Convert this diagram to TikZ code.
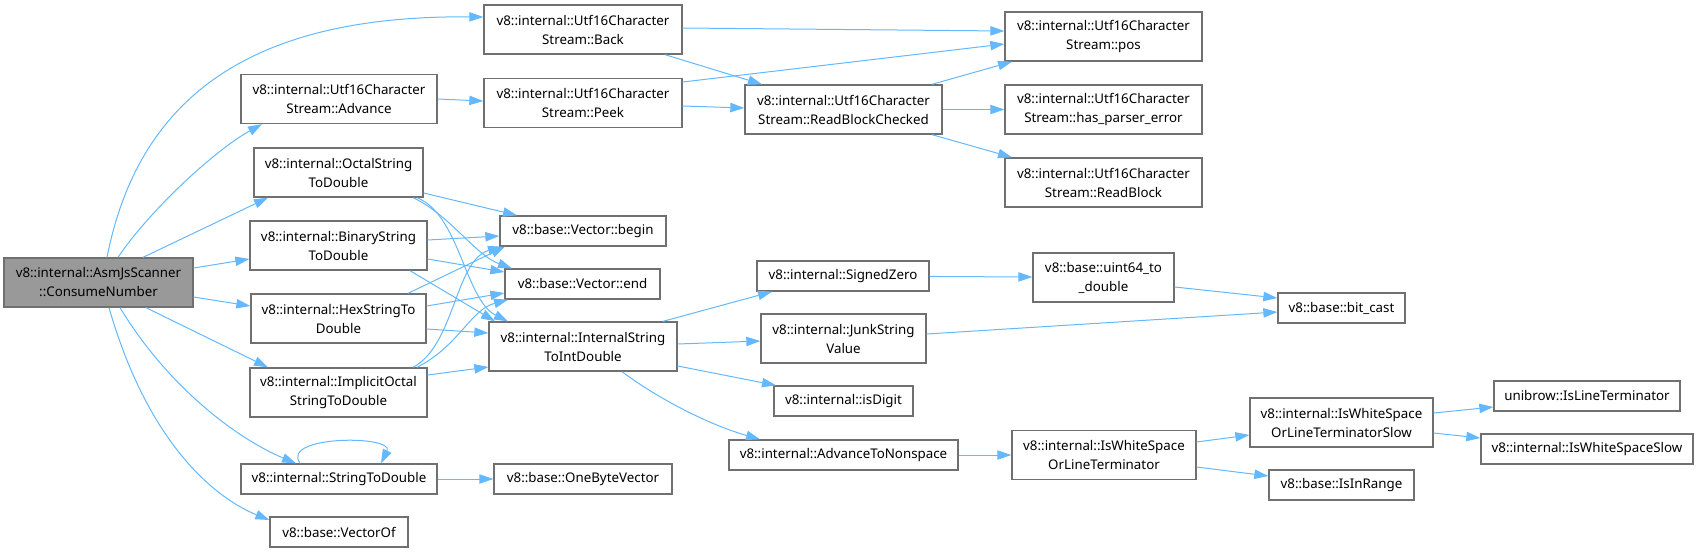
\documentclass[tikz,border=0pt]{standalone}
\usepackage{fontspec}
\newfontfamily\graphfont{Noto Sans}
\usetikzlibrary{arrows.meta}
\definecolor{edgeblue}{HTML}{63B8FF}
\definecolor{boxgray}{HTML}{707070}
\definecolor{rootgray}{HTML}{999999}
\tikzset{
    fn/.style={rectangle, draw=boxgray, line width=1pt, fill=white, inner sep=1pt,
        minimum width=0.75pt*#1, minimum height=22.5pt, align=center,
        font=\graphfont\fontsize{10}{14.25}\selectfont},
    fn2/.style={fn=#1, minimum height=36.75pt},
    call/.style={draw=edgeblue, line width=0.75pt, -{Triangle[length=10.5pt,width=7pt]}}
}

\begin{document}
\begin{tikzpicture}[x=0.75pt, y=-0.75pt]
        \useasboundingbox (0,0) rectangle (1698,553);
        % nodes
        \node [fn2=189, fill=rootgray] (main) at (98.5,282.5) {v8::internal::AsmJsScanner\\::ConsumeNumber};
        \node [fn2=198] (back) at (583,29.5) {v8::internal::Utf16Character\\Stream::Back};
        \node [fn2=196] (advance) at (339,99) {v8::internal::Utf16Character\\Stream::Advance};
        \node [fn2=198] (peek) at (583,103) {v8::internal::Utf16Character\\Stream::Peek};
        \node [fn2=169] (octal) at (338.5,172.5) {v8::internal::OctalString\\ToDouble};
        \node [fn2=177] (binary) at (338.5,245.5) {v8::internal::BinaryString\\ToDouble};
        \node [fn2=175] (hex) at (338.5,318.5) {v8::internal::HexStringTo\\Double};
        \node [fn2=177] (implicit) at (338.5,392.5) {v8::internal::ImplicitOctal\\StringToDouble};
        \node [fn=196] (strtod) at (339,479) {v8::internal::StringToDouble};
        \node [fn=138] (vecof) at (339,532) {v8::base::VectorOf};
        \node [fn=166] (vbegin) at (583,231) {v8::base::Vector::begin};
        \node [fn=155] (vend) at (582.5,284) {v8::base::Vector::end};
        \node [fn2=188] (intstr) at (583,346.5) {v8::internal::InternalString\\ToIntDouble};
        \node [fn=178] (onebyte) at (583,479) {v8::base::OneByteVector};
        \node [fn2=197] (rbc) at (843.5,109.5) {v8::internal::Utf16Character\\Stream::ReadBlockChecked};
        \node [fn2=197] (pos) at (1103.5,36.5) {v8::internal::Utf16Character\\Stream::pos};
        \node [fn2=197] (haserr) at (1103.5,109.5) {v8::internal::Utf16Character\\Stream::has\_parser\_error};
        \node [fn2=197] (readblk) at (1103.5,182.5) {v8::internal::Utf16Character\\Stream::ReadBlock};
        \node [fn=172] (signed) at (843,276) {v8::internal::SignedZero};
        \node [fn2=165] (junk) at (843.5,338.5) {v8::internal::JunkString\\Value};
        \node [fn=139] (isdigit) at (843.5,401) {v8::internal::isDigit};
        \node [fn=229] (advnon) at (843.5,455) {v8::internal::AdvanceToNonspace};
        \node [fn2=141] (u64) at (1103.5,277.5) {v8::base::uint64\_to\\\_double};
        \node [fn2=184] (iswsolt) at (1104,455) {v8::internal::IsWhiteSpace\\OrLineTerminator};
        \node [fn=127] (bitcast) at (1341.5,308) {v8::base::bit\_cast};
        \node [fn2=183] (iswsolts) at (1341.5,422.5) {v8::internal::IsWhiteSpace\\OrLineTerminatorSlow};
        \node [fn=145] (inrange) at (1341.5,485) {v8::base::IsInRange};
        \node [fn=186] (unibrow) at (1587,396) {unibrow::IsLineTerminator};
        \node [fn=212] (wsslow) at (1587,449) {v8::internal::IsWhiteSpaceSlow};

        % calls from the root
        \draw [call] (main.north -| 107,0) .. controls (140,90) and (260,15) .. (back.west |- 0,17);
        \draw [call] (main.north -| 118,0) .. controls (150,210) and (215,150) .. (advance.south -| 262,0);
        \draw [call] (main.north -| 143,0) -- (octal.south -| 268,0);
        \draw [call] (main.east |- 0,268) -- (binary.west |- 0,259);
        \draw [call] (main.east |- 0,297) -- (hex.west |- 0,306);
        \draw [call] (main.south -| 146,0) -- (implicit.north -| 268,0);
        \draw [call] (main.south -| 120,0) .. controls (170,390) and (240,440) .. (strtod.north -| 296,0);
        \draw [call] (main.south -| 109,0) .. controls (150,450) and (220,500) .. (vecof.west |- 0,520);
        \draw [call] (strtod.north -| 300,0) .. controls (280,435) and (395,435) .. (strtod.north -| 381,0);
        \draw [call] (strtod) -- (onebyte);

        % utf16 stream
        \draw [call] (advance.east |- 0,99) -- (peek.west |- 0,101);
        \draw [call] (back.east |- 0,28) -- (pos.west |- 0,31);
        \draw [call] (back.south -| 665,0) -- (rbc.north -| 762,0);
        \draw [call] (peek.east |- 0,82) -- (pos.west |- 0,44);
        \draw [call] (peek.east |- 0,106) -- (rbc.west |- 0,108);
        \draw [call] (rbc.north -| 932,0) -- (pos.south -| 1012,0);
        \draw [call] (rbc) -- (haserr);
        \draw [call] (rbc.south -| 932,0) -- (readblk.north -| 1012,0);

        % string conversions
        \draw [call] (octal.east |- 0,193) -- (vbegin.north -| 517,0);
        \draw [call] (octal.south -| 413,0) .. controls (450,215) and (475,255) .. (vend.north -| 512,0);
        \draw [call] (octal.south -| 417,0) .. controls (460,215) and (465,300) .. (intstr.north -| 508,0);
        \draw [call] (binary.east |- 0,240) -- (vbegin.west |- 0,236);
        \draw [call] (binary.east |- 0,259) -- (vend.west |- 0,272);
        \draw [call] (binary.south -| 410,0) -- (intstr.north -| 495,0);
        \draw [call] (hex.north -| 408,0) -- (vbegin.south -| 505,0);
        \draw [call] (hex.east |- 0,306) -- (vend.west |- 0,293);
        \draw [call] (hex.east |- 0,329) -- (intstr.west |- 0,333);
        \draw [call] (implicit.north -| 413,0) .. controls (455,345) and (455,260) .. (vbegin.south -| 502,0);
        \draw [call] (implicit.north -| 417,0) .. controls (460,345) and (470,310) .. (vend.south -| 508,0);
        \draw [call] (implicit.east |- 0,375) -- (intstr.west |- 0,367);

        % internal string to int double
        \draw [call] (intstr.north -| 663,0) -- (signed.south -| 772,0);
        \draw [call] (intstr.east |- 0,344) -- (junk.west |- 0,341);
        \draw [call] (intstr.east |- 0,366) -- (isdigit.north -| 776,0);
        \draw [call] (intstr.south -| 622,0) .. controls (660,400) and (710,425) .. (advnon.north -| 760,0);
        \draw [call] (signed) -- (u64.west |- 0,277);
        \draw [call] (u64.east |- 0,287) -- (bitcast.west |- 0,298);
        \draw [call] (junk.east |- 0,334) -- (bitcast.west |- 0,312);
        \draw [call] (advnon) -- (iswsolt);
        \draw [call] (iswsolt.east |- 0,442) -- (iswsolts.west |- 0,435);
        \draw [call] (iswsolt.east |- 0,467) -- (inrange.west |- 0,476);
        \draw [call] (iswsolts.east |- 0,413) -- (unibrow.west |- 0,407);
        \draw [call] (iswsolts.east |- 0,433) -- (wsslow.west |- 0,438);
    \end{tikzpicture}
\end{document}
